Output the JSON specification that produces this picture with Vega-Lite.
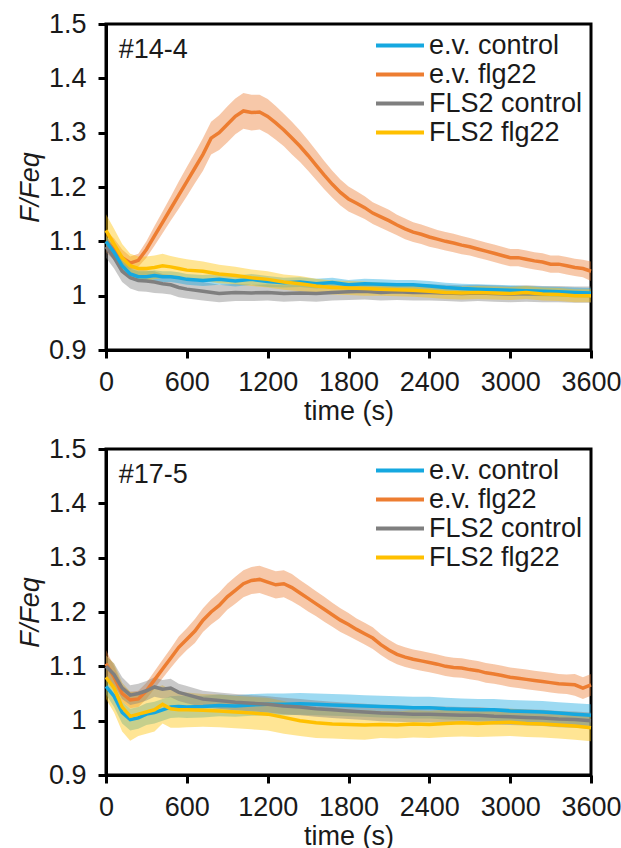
{
"$schema": "https://vega.github.io/schema/vega-lite/v6.json",
"padding": {"left": 14, "top": 8, "right": 4, "bottom": 4},
"background": "white",
"config": {
  "font": "Liberation Sans",
  "view": {"stroke": "black", "strokeWidth": 3},
  "axis": {"domainColor": "black", "domainWidth": 3, "tickColor": "black", "tickWidth": 3, "tickSize": 8, "labelFontSize": 27, "labelColor": "#1a1a1a", "titleFontSize": 27, "titleColor": "#1a1a1a", "titleFontWeight": "normal", "grid": false, "labelFont": "Liberation Sans", "titleFont": "Liberation Sans"},
  "legend": {"orient": "top-right", "offset": 8, "symbolType": "stroke", "symbolSize": 2304, "symbolStrokeWidth": 4, "symbolOpacity": 1, "clipHeight": 27, "labelFontSize": 27, "labelFont": "Liberation Sans", "labelColor": "#1a1a1a", "padding": 0, "rowPadding": 1, "labelOffset": 3, "labelLimit": 400}
},
"resolve": {"scale": {"color": "independent"}, "legend": {"color": "independent"}},
"spacing": 7,
"datasets": {
"a": [
{"s":"e.v. flg22","t":0,"m":1.1,"e":0.02},{"s":"e.v. flg22","t":60,"m":1.085,"e":0.02},{"s":"e.v. flg22","t":120,"m":1.07,"e":0.015},{"s":"e.v. flg22","t":180,"m":1.06,"e":0.012},{"s":"e.v. flg22","t":240,"m":1.065,"e":0.012},{"s":"e.v. flg22","t":300,"m":1.085,"e":0.015},{"s":"e.v. flg22","t":360,"m":1.11,"e":0.018},{"s":"e.v. flg22","t":420,"m":1.135,"e":0.02},{"s":"e.v. flg22","t":480,"m":1.16,"e":0.022},{"s":"e.v. flg22","t":540,"m":1.185,"e":0.025},{"s":"e.v. flg22","t":600,"m":1.21,"e":0.027},{"s":"e.v. flg22","t":660,"m":1.235,"e":0.028},{"s":"e.v. flg22","t":720,"m":1.26,"e":0.03},{"s":"e.v. flg22","t":780,"m":1.29,"e":0.03},{"s":"e.v. flg22","t":840,"m":1.3,"e":0.032},{"s":"e.v. flg22","t":900,"m":1.315,"e":0.033},{"s":"e.v. flg22","t":960,"m":1.33,"e":0.033},{"s":"e.v. flg22","t":1020,"m":1.34,"e":0.033},{"s":"e.v. flg22","t":1080,"m":1.337,"e":0.033},{"s":"e.v. flg22","t":1140,"m":1.338,"e":0.032},{"s":"e.v. flg22","t":1200,"m":1.33,"e":0.032},{"s":"e.v. flg22","t":1260,"m":1.318,"e":0.031},{"s":"e.v. flg22","t":1320,"m":1.305,"e":0.03},{"s":"e.v. flg22","t":1380,"m":1.29,"e":0.03},{"s":"e.v. flg22","t":1440,"m":1.275,"e":0.029},{"s":"e.v. flg22","t":1500,"m":1.258,"e":0.028},{"s":"e.v. flg22","t":1560,"m":1.24,"e":0.027},{"s":"e.v. flg22","t":1620,"m":1.222,"e":0.026},{"s":"e.v. flg22","t":1680,"m":1.205,"e":0.025},{"s":"e.v. flg22","t":1740,"m":1.19,"e":0.024},{"s":"e.v. flg22","t":1800,"m":1.178,"e":0.023},{"s":"e.v. flg22","t":1860,"m":1.17,"e":0.022},{"s":"e.v. flg22","t":1920,"m":1.162,"e":0.021},{"s":"e.v. flg22","t":1980,"m":1.152,"e":0.02},{"s":"e.v. flg22","t":2040,"m":1.145,"e":0.02},{"s":"e.v. flg22","t":2100,"m":1.138,"e":0.02},{"s":"e.v. flg22","t":2160,"m":1.13,"e":0.019},{"s":"e.v. flg22","t":2220,"m":1.123,"e":0.019},{"s":"e.v. flg22","t":2280,"m":1.117,"e":0.018},{"s":"e.v. flg22","t":2340,"m":1.113,"e":0.018},{"s":"e.v. flg22","t":2400,"m":1.108,"e":0.018},{"s":"e.v. flg22","t":2460,"m":1.104,"e":0.017},{"s":"e.v. flg22","t":2520,"m":1.1,"e":0.017},{"s":"e.v. flg22","t":2580,"m":1.097,"e":0.017},{"s":"e.v. flg22","t":2640,"m":1.093,"e":0.017},{"s":"e.v. flg22","t":2700,"m":1.09,"e":0.016},{"s":"e.v. flg22","t":2760,"m":1.086,"e":0.016},{"s":"e.v. flg22","t":2820,"m":1.082,"e":0.016},{"s":"e.v. flg22","t":2880,"m":1.078,"e":0.016},{"s":"e.v. flg22","t":2940,"m":1.074,"e":0.016},{"s":"e.v. flg22","t":3000,"m":1.07,"e":0.016},{"s":"e.v. flg22","t":3060,"m":1.07,"e":0.016},{"s":"e.v. flg22","t":3120,"m":1.067,"e":0.016},{"s":"e.v. flg22","t":3180,"m":1.064,"e":0.016},{"s":"e.v. flg22","t":3240,"m":1.062,"e":0.016},{"s":"e.v. flg22","t":3300,"m":1.058,"e":0.016},{"s":"e.v. flg22","t":3360,"m":1.058,"e":0.016},{"s":"e.v. flg22","t":3420,"m":1.055,"e":0.016},{"s":"e.v. flg22","t":3480,"m":1.052,"e":0.016},{"s":"e.v. flg22","t":3540,"m":1.05,"e":0.016},{"s":"e.v. flg22","t":3600,"m":1.045,"e":0.018},
{"s":"FLS2 control","t":0,"m":1.09,"e":0.02},{"s":"FLS2 control","t":60,"m":1.07,"e":0.02},{"s":"FLS2 control","t":120,"m":1.045,"e":0.02},{"s":"FLS2 control","t":180,"m":1.033,"e":0.02},{"s":"FLS2 control","t":240,"m":1.028,"e":0.02},{"s":"FLS2 control","t":300,"m":1.027,"e":0.02},{"s":"FLS2 control","t":360,"m":1.025,"e":0.02},{"s":"FLS2 control","t":420,"m":1.022,"e":0.018},{"s":"FLS2 control","t":480,"m":1.02,"e":0.018},{"s":"FLS2 control","t":540,"m":1.015,"e":0.018},{"s":"FLS2 control","t":600,"m":1.012,"e":0.017},{"s":"FLS2 control","t":720,"m":1.008,"e":0.017},{"s":"FLS2 control","t":840,"m":1.004,"e":0.016},{"s":"FLS2 control","t":960,"m":1.006,"e":0.016},{"s":"FLS2 control","t":1080,"m":1.005,"e":0.015},{"s":"FLS2 control","t":1200,"m":1.006,"e":0.015},{"s":"FLS2 control","t":1320,"m":1.004,"e":0.015},{"s":"FLS2 control","t":1440,"m":1.005,"e":0.015},{"s":"FLS2 control","t":1560,"m":1.004,"e":0.015},{"s":"FLS2 control","t":1680,"m":1.006,"e":0.015},{"s":"FLS2 control","t":1800,"m":1.007,"e":0.015},{"s":"FLS2 control","t":1920,"m":1.008,"e":0.015},{"s":"FLS2 control","t":2040,"m":1.006,"e":0.015},{"s":"FLS2 control","t":2160,"m":1.007,"e":0.015},{"s":"FLS2 control","t":2280,"m":1.006,"e":0.015},{"s":"FLS2 control","t":2400,"m":1.006,"e":0.015},{"s":"FLS2 control","t":2520,"m":1.005,"e":0.015},{"s":"FLS2 control","t":2640,"m":1.004,"e":0.015},{"s":"FLS2 control","t":2760,"m":1.005,"e":0.015},{"s":"FLS2 control","t":2880,"m":1.004,"e":0.015},{"s":"FLS2 control","t":3000,"m":1.003,"e":0.015},{"s":"FLS2 control","t":3120,"m":1.004,"e":0.015},{"s":"FLS2 control","t":3240,"m":1.003,"e":0.015},{"s":"FLS2 control","t":3360,"m":1.003,"e":0.015},{"s":"FLS2 control","t":3480,"m":1.002,"e":0.015},{"s":"FLS2 control","t":3600,"m":1.002,"e":0.015},
{"s":"e.v. control","t":0,"m":1.1,"e":0.01},{"s":"e.v. control","t":60,"m":1.08,"e":0.01},{"s":"e.v. control","t":120,"m":1.055,"e":0.01},{"s":"e.v. control","t":180,"m":1.04,"e":0.01},{"s":"e.v. control","t":240,"m":1.035,"e":0.01},{"s":"e.v. control","t":300,"m":1.035,"e":0.01},{"s":"e.v. control","t":360,"m":1.037,"e":0.01},{"s":"e.v. control","t":420,"m":1.035,"e":0.01},{"s":"e.v. control","t":480,"m":1.035,"e":0.01},{"s":"e.v. control","t":540,"m":1.033,"e":0.01},{"s":"e.v. control","t":600,"m":1.03,"e":0.01},{"s":"e.v. control","t":720,"m":1.028,"e":0.01},{"s":"e.v. control","t":840,"m":1.03,"e":0.01},{"s":"e.v. control","t":960,"m":1.027,"e":0.01},{"s":"e.v. control","t":1080,"m":1.03,"e":0.01},{"s":"e.v. control","t":1200,"m":1.026,"e":0.01},{"s":"e.v. control","t":1320,"m":1.024,"e":0.009},{"s":"e.v. control","t":1440,"m":1.025,"e":0.009},{"s":"e.v. control","t":1560,"m":1.022,"e":0.009},{"s":"e.v. control","t":1680,"m":1.024,"e":0.009},{"s":"e.v. control","t":1800,"m":1.02,"e":0.009},{"s":"e.v. control","t":1920,"m":1.022,"e":0.009},{"s":"e.v. control","t":2040,"m":1.021,"e":0.009},{"s":"e.v. control","t":2160,"m":1.02,"e":0.009},{"s":"e.v. control","t":2280,"m":1.02,"e":0.009},{"s":"e.v. control","t":2400,"m":1.018,"e":0.009},{"s":"e.v. control","t":2520,"m":1.015,"e":0.009},{"s":"e.v. control","t":2640,"m":1.013,"e":0.009},{"s":"e.v. control","t":2760,"m":1.012,"e":0.009},{"s":"e.v. control","t":2880,"m":1.011,"e":0.009},{"s":"e.v. control","t":3000,"m":1.01,"e":0.009},{"s":"e.v. control","t":3120,"m":1.009,"e":0.009},{"s":"e.v. control","t":3240,"m":1.008,"e":0.009},{"s":"e.v. control","t":3360,"m":1.007,"e":0.009},{"s":"e.v. control","t":3480,"m":1.006,"e":0.009},{"s":"e.v. control","t":3600,"m":1.005,"e":0.009},
{"s":"FLS2 flg22","t":0,"m":1.12,"e":0.03},{"s":"FLS2 flg22","t":60,"m":1.095,"e":0.028},{"s":"FLS2 flg22","t":120,"m":1.07,"e":0.025},{"s":"FLS2 flg22","t":180,"m":1.055,"e":0.022},{"s":"FLS2 flg22","t":240,"m":1.05,"e":0.022},{"s":"FLS2 flg22","t":300,"m":1.05,"e":0.022},{"s":"FLS2 flg22","t":360,"m":1.052,"e":0.022},{"s":"FLS2 flg22","t":420,"m":1.055,"e":0.022},{"s":"FLS2 flg22","t":480,"m":1.053,"e":0.02},{"s":"FLS2 flg22","t":540,"m":1.05,"e":0.02},{"s":"FLS2 flg22","t":600,"m":1.047,"e":0.02},{"s":"FLS2 flg22","t":720,"m":1.045,"e":0.018},{"s":"FLS2 flg22","t":840,"m":1.04,"e":0.017},{"s":"FLS2 flg22","t":960,"m":1.037,"e":0.016},{"s":"FLS2 flg22","t":1080,"m":1.033,"e":0.015},{"s":"FLS2 flg22","t":1200,"m":1.03,"e":0.015},{"s":"FLS2 flg22","t":1320,"m":1.025,"e":0.014},{"s":"FLS2 flg22","t":1440,"m":1.022,"e":0.014},{"s":"FLS2 flg22","t":1560,"m":1.018,"e":0.013},{"s":"FLS2 flg22","t":1680,"m":1.015,"e":0.013},{"s":"FLS2 flg22","t":1800,"m":1.014,"e":0.013},{"s":"FLS2 flg22","t":1920,"m":1.013,"e":0.013},{"s":"FLS2 flg22","t":2040,"m":1.012,"e":0.012},{"s":"FLS2 flg22","t":2160,"m":1.011,"e":0.012},{"s":"FLS2 flg22","t":2280,"m":1.01,"e":0.012},{"s":"FLS2 flg22","t":2400,"m":1.008,"e":0.012},{"s":"FLS2 flg22","t":2520,"m":1.006,"e":0.012},{"s":"FLS2 flg22","t":2640,"m":1.005,"e":0.012},{"s":"FLS2 flg22","t":2760,"m":1.006,"e":0.012},{"s":"FLS2 flg22","t":2880,"m":1.005,"e":0.012},{"s":"FLS2 flg22","t":3000,"m":1.004,"e":0.012},{"s":"FLS2 flg22","t":3120,"m":1.006,"e":0.012},{"s":"FLS2 flg22","t":3240,"m":1.003,"e":0.012},{"s":"FLS2 flg22","t":3360,"m":1.002,"e":0.012},{"s":"FLS2 flg22","t":3480,"m":1.0,"e":0.012},{"s":"FLS2 flg22","t":3600,"m":1.0,"e":0.012}
],
"b": [
{"s":"e.v. flg22","t":0,"m":1.105,"e":0.025},{"s":"e.v. flg22","t":60,"m":1.08,"e":0.02},{"s":"e.v. flg22","t":120,"m":1.05,"e":0.015},{"s":"e.v. flg22","t":180,"m":1.038,"e":0.015},{"s":"e.v. flg22","t":240,"m":1.04,"e":0.015},{"s":"e.v. flg22","t":300,"m":1.055,"e":0.015},{"s":"e.v. flg22","t":360,"m":1.075,"e":0.016},{"s":"e.v. flg22","t":420,"m":1.095,"e":0.017},{"s":"e.v. flg22","t":480,"m":1.115,"e":0.018},{"s":"e.v. flg22","t":540,"m":1.135,"e":0.02},{"s":"e.v. flg22","t":600,"m":1.15,"e":0.02},{"s":"e.v. flg22","t":660,"m":1.165,"e":0.022},{"s":"e.v. flg22","t":720,"m":1.185,"e":0.022},{"s":"e.v. flg22","t":780,"m":1.2,"e":0.023},{"s":"e.v. flg22","t":840,"m":1.212,"e":0.024},{"s":"e.v. flg22","t":900,"m":1.228,"e":0.024},{"s":"e.v. flg22","t":960,"m":1.24,"e":0.025},{"s":"e.v. flg22","t":1020,"m":1.252,"e":0.025},{"s":"e.v. flg22","t":1080,"m":1.258,"e":0.025},{"s":"e.v. flg22","t":1140,"m":1.26,"e":0.025},{"s":"e.v. flg22","t":1200,"m":1.255,"e":0.025},{"s":"e.v. flg22","t":1260,"m":1.25,"e":0.025},{"s":"e.v. flg22","t":1320,"m":1.252,"e":0.025},{"s":"e.v. flg22","t":1380,"m":1.245,"e":0.025},{"s":"e.v. flg22","t":1440,"m":1.235,"e":0.024},{"s":"e.v. flg22","t":1500,"m":1.225,"e":0.024},{"s":"e.v. flg22","t":1560,"m":1.215,"e":0.023},{"s":"e.v. flg22","t":1620,"m":1.205,"e":0.023},{"s":"e.v. flg22","t":1680,"m":1.195,"e":0.022},{"s":"e.v. flg22","t":1740,"m":1.185,"e":0.022},{"s":"e.v. flg22","t":1800,"m":1.177,"e":0.021},{"s":"e.v. flg22","t":1860,"m":1.168,"e":0.02},{"s":"e.v. flg22","t":1920,"m":1.16,"e":0.02},{"s":"e.v. flg22","t":1980,"m":1.152,"e":0.02},{"s":"e.v. flg22","t":2040,"m":1.14,"e":0.019},{"s":"e.v. flg22","t":2100,"m":1.13,"e":0.019},{"s":"e.v. flg22","t":2160,"m":1.122,"e":0.018},{"s":"e.v. flg22","t":2220,"m":1.117,"e":0.018},{"s":"e.v. flg22","t":2280,"m":1.113,"e":0.018},{"s":"e.v. flg22","t":2340,"m":1.11,"e":0.018},{"s":"e.v. flg22","t":2400,"m":1.107,"e":0.018},{"s":"e.v. flg22","t":2460,"m":1.104,"e":0.018},{"s":"e.v. flg22","t":2520,"m":1.1,"e":0.018},{"s":"e.v. flg22","t":2580,"m":1.098,"e":0.018},{"s":"e.v. flg22","t":2640,"m":1.097,"e":0.018},{"s":"e.v. flg22","t":2700,"m":1.094,"e":0.018},{"s":"e.v. flg22","t":2760,"m":1.092,"e":0.018},{"s":"e.v. flg22","t":2820,"m":1.088,"e":0.018},{"s":"e.v. flg22","t":2880,"m":1.086,"e":0.018},{"s":"e.v. flg22","t":2940,"m":1.083,"e":0.018},{"s":"e.v. flg22","t":3000,"m":1.08,"e":0.018},{"s":"e.v. flg22","t":3060,"m":1.078,"e":0.018},{"s":"e.v. flg22","t":3120,"m":1.076,"e":0.018},{"s":"e.v. flg22","t":3180,"m":1.074,"e":0.018},{"s":"e.v. flg22","t":3240,"m":1.072,"e":0.018},{"s":"e.v. flg22","t":3300,"m":1.07,"e":0.018},{"s":"e.v. flg22","t":3360,"m":1.068,"e":0.018},{"s":"e.v. flg22","t":3420,"m":1.067,"e":0.018},{"s":"e.v. flg22","t":3480,"m":1.066,"e":0.02},{"s":"e.v. flg22","t":3540,"m":1.06,"e":0.02},{"s":"e.v. flg22","t":3600,"m":1.066,"e":0.02},
{"s":"e.v. control","t":0,"m":1.063,"e":0.015},{"s":"e.v. control","t":60,"m":1.045,"e":0.02},{"s":"e.v. control","t":120,"m":1.015,"e":0.02},{"s":"e.v. control","t":180,"m":1.002,"e":0.02},{"s":"e.v. control","t":240,"m":1.005,"e":0.02},{"s":"e.v. control","t":300,"m":1.012,"e":0.02},{"s":"e.v. control","t":360,"m":1.015,"e":0.02},{"s":"e.v. control","t":420,"m":1.02,"e":0.02},{"s":"e.v. control","t":480,"m":1.025,"e":0.02},{"s":"e.v. control","t":540,"m":1.026,"e":0.02},{"s":"e.v. control","t":600,"m":1.025,"e":0.02},{"s":"e.v. control","t":720,"m":1.026,"e":0.02},{"s":"e.v. control","t":840,"m":1.028,"e":0.02},{"s":"e.v. control","t":960,"m":1.027,"e":0.02},{"s":"e.v. control","t":1080,"m":1.029,"e":0.02},{"s":"e.v. control","t":1200,"m":1.03,"e":0.02},{"s":"e.v. control","t":1320,"m":1.03,"e":0.02},{"s":"e.v. control","t":1440,"m":1.031,"e":0.02},{"s":"e.v. control","t":1560,"m":1.03,"e":0.02},{"s":"e.v. control","t":1680,"m":1.029,"e":0.02},{"s":"e.v. control","t":1800,"m":1.028,"e":0.02},{"s":"e.v. control","t":1920,"m":1.027,"e":0.02},{"s":"e.v. control","t":2040,"m":1.026,"e":0.02},{"s":"e.v. control","t":2160,"m":1.025,"e":0.02},{"s":"e.v. control","t":2280,"m":1.024,"e":0.02},{"s":"e.v. control","t":2400,"m":1.024,"e":0.02},{"s":"e.v. control","t":2520,"m":1.022,"e":0.02},{"s":"e.v. control","t":2640,"m":1.021,"e":0.02},{"s":"e.v. control","t":2760,"m":1.02,"e":0.02},{"s":"e.v. control","t":2880,"m":1.02,"e":0.02},{"s":"e.v. control","t":3000,"m":1.018,"e":0.02},{"s":"e.v. control","t":3120,"m":1.017,"e":0.02},{"s":"e.v. control","t":3240,"m":1.016,"e":0.02},{"s":"e.v. control","t":3360,"m":1.014,"e":0.02},{"s":"e.v. control","t":3480,"m":1.012,"e":0.02},{"s":"e.v. control","t":3600,"m":1.01,"e":0.02},
{"s":"FLS2 flg22","t":0,"m":1.08,"e":0.04},{"s":"FLS2 flg22","t":60,"m":1.06,"e":0.045},{"s":"FLS2 flg22","t":120,"m":1.025,"e":0.045},{"s":"FLS2 flg22","t":180,"m":1.008,"e":0.045},{"s":"FLS2 flg22","t":240,"m":1.012,"e":0.04},{"s":"FLS2 flg22","t":300,"m":1.016,"e":0.04},{"s":"FLS2 flg22","t":360,"m":1.02,"e":0.04},{"s":"FLS2 flg22","t":420,"m":1.03,"e":0.035},{"s":"FLS2 flg22","t":480,"m":1.022,"e":0.035},{"s":"FLS2 flg22","t":540,"m":1.02,"e":0.033},{"s":"FLS2 flg22","t":600,"m":1.02,"e":0.032},{"s":"FLS2 flg22","t":720,"m":1.019,"e":0.03},{"s":"FLS2 flg22","t":840,"m":1.018,"e":0.03},{"s":"FLS2 flg22","t":960,"m":1.016,"e":0.03},{"s":"FLS2 flg22","t":1080,"m":1.014,"e":0.03},{"s":"FLS2 flg22","t":1200,"m":1.012,"e":0.03},{"s":"FLS2 flg22","t":1320,"m":1.006,"e":0.03},{"s":"FLS2 flg22","t":1440,"m":1.0,"e":0.028},{"s":"FLS2 flg22","t":1560,"m":0.996,"e":0.028},{"s":"FLS2 flg22","t":1680,"m":0.994,"e":0.027},{"s":"FLS2 flg22","t":1800,"m":0.993,"e":0.027},{"s":"FLS2 flg22","t":1920,"m":0.992,"e":0.027},{"s":"FLS2 flg22","t":2040,"m":0.993,"e":0.025},{"s":"FLS2 flg22","t":2160,"m":0.992,"e":0.025},{"s":"FLS2 flg22","t":2280,"m":0.994,"e":0.025},{"s":"FLS2 flg22","t":2400,"m":0.993,"e":0.025},{"s":"FLS2 flg22","t":2520,"m":0.995,"e":0.025},{"s":"FLS2 flg22","t":2640,"m":0.996,"e":0.025},{"s":"FLS2 flg22","t":2760,"m":0.995,"e":0.025},{"s":"FLS2 flg22","t":2880,"m":0.996,"e":0.025},{"s":"FLS2 flg22","t":3000,"m":0.997,"e":0.025},{"s":"FLS2 flg22","t":3120,"m":0.995,"e":0.025},{"s":"FLS2 flg22","t":3240,"m":0.994,"e":0.025},{"s":"FLS2 flg22","t":3360,"m":0.992,"e":0.025},{"s":"FLS2 flg22","t":3480,"m":0.99,"e":0.025},{"s":"FLS2 flg22","t":3600,"m":0.987,"e":0.025},
{"s":"FLS2 control","t":0,"m":1.1,"e":0.02},{"s":"FLS2 control","t":60,"m":1.085,"e":0.02},{"s":"FLS2 control","t":120,"m":1.06,"e":0.02},{"s":"FLS2 control","t":180,"m":1.047,"e":0.018},{"s":"FLS2 control","t":240,"m":1.05,"e":0.018},{"s":"FLS2 control","t":300,"m":1.055,"e":0.018},{"s":"FLS2 control","t":360,"m":1.062,"e":0.018},{"s":"FLS2 control","t":420,"m":1.058,"e":0.017},{"s":"FLS2 control","t":480,"m":1.06,"e":0.017},{"s":"FLS2 control","t":540,"m":1.052,"e":0.016},{"s":"FLS2 control","t":600,"m":1.048,"e":0.016},{"s":"FLS2 control","t":720,"m":1.04,"e":0.015},{"s":"FLS2 control","t":840,"m":1.037,"e":0.015},{"s":"FLS2 control","t":960,"m":1.034,"e":0.015},{"s":"FLS2 control","t":1080,"m":1.032,"e":0.015},{"s":"FLS2 control","t":1200,"m":1.03,"e":0.015},{"s":"FLS2 control","t":1320,"m":1.027,"e":0.015},{"s":"FLS2 control","t":1440,"m":1.025,"e":0.015},{"s":"FLS2 control","t":1560,"m":1.022,"e":0.015},{"s":"FLS2 control","t":1680,"m":1.02,"e":0.015},{"s":"FLS2 control","t":1800,"m":1.018,"e":0.015},{"s":"FLS2 control","t":1920,"m":1.016,"e":0.015},{"s":"FLS2 control","t":2040,"m":1.014,"e":0.015},{"s":"FLS2 control","t":2160,"m":1.013,"e":0.015},{"s":"FLS2 control","t":2280,"m":1.012,"e":0.015},{"s":"FLS2 control","t":2400,"m":1.012,"e":0.015},{"s":"FLS2 control","t":2520,"m":1.011,"e":0.015},{"s":"FLS2 control","t":2640,"m":1.01,"e":0.015},{"s":"FLS2 control","t":2760,"m":1.01,"e":0.015},{"s":"FLS2 control","t":2880,"m":1.008,"e":0.015},{"s":"FLS2 control","t":3000,"m":1.007,"e":0.015},{"s":"FLS2 control","t":3120,"m":1.006,"e":0.015},{"s":"FLS2 control","t":3240,"m":1.005,"e":0.015},{"s":"FLS2 control","t":3360,"m":1.003,"e":0.015},{"s":"FLS2 control","t":3480,"m":1.002,"e":0.015},{"s":"FLS2 control","t":3600,"m":1.0,"e":0.015}
]
},
"vconcat": [
{
  "width": 485, "height": 326,
  "data": {"name": "a"},
  "layer": [
    {"mark": {"type": "errorband", "opacity": 0.42},
     "encoding": {
       "x": {"field": "t", "type": "quantitative", "scale": {"domain": [0, 3600], "nice": false}, "axis": {"values": [0,600,1200,1800,2400,3000,3600], "format": "d", "labelOverlap": false, "labelFlush": false, "title": "time (s)", "labelPadding": 11, "titlePadding": 3}},
       "y": {"field": "m", "type": "quantitative", "scale": {"domain": [0.9, 1.5], "nice": false, "zero": false}, "axis": {"values": [0.9,1,1.1,1.2,1.3,1.4,1.5], "format": ".1~f", "labelOverlap": false, "labelFlush": false, "title": "F/Feq", "titleFontStyle": "italic", "labelPadding": 12, "titlePadding": 4}},
       "yError": {"field": "e"},
       "color": {"field": "s", "type": "nominal", "title": null, "scale": {"domain": ["e.v. control","e.v. flg22","FLS2 control","FLS2 flg22"], "range": ["#15A8E0","#ED7D31","#7F7F7F","#FFC000"]}}
     }},
    {"mark": {"type": "line", "strokeWidth": 3.5},
     "encoding": {
       "x": {"field": "t", "type": "quantitative"},
       "y": {"field": "m", "type": "quantitative"},
       "color": {"field": "s", "type": "nominal", "title": null, "scale": {"domain": ["e.v. control","e.v. flg22","FLS2 control","FLS2 flg22"], "range": ["#15A8E0","#ED7D31","#7F7F7F","#FFC000"]}}
     }},
    {"data": {"values": [{"lab": "#14-4"}]},
     "mark": {"type": "text", "align": "left", "baseline": "middle", "fontSize": 27, "color": "#1a1a1a"},
     "encoding": {"x": {"datum": 95}, "y": {"datum": 1.452}, "text": {"field": "lab"}}}
  ]
},
{
  "width": 485, "height": 326,
  "data": {"name": "b"},
  "layer": [
    {"mark": {"type": "errorband", "opacity": 0.42},
     "encoding": {
       "x": {"field": "t", "type": "quantitative", "scale": {"domain": [0, 3600], "nice": false}, "axis": {"values": [0,600,1200,1800,2400,3000,3600], "format": "d", "labelOverlap": false, "labelFlush": false, "title": "time (s)", "labelPadding": 11, "titlePadding": 3}},
       "y": {"field": "m", "type": "quantitative", "scale": {"domain": [0.9, 1.5], "nice": false, "zero": false}, "axis": {"values": [0.9,1,1.1,1.2,1.3,1.4,1.5], "format": ".1~f", "labelOverlap": false, "labelFlush": false, "title": "F/Feq", "titleFontStyle": "italic", "labelPadding": 12, "titlePadding": 4}},
       "yError": {"field": "e"},
       "color": {"field": "s", "type": "nominal", "title": null, "scale": {"domain": ["e.v. control","e.v. flg22","FLS2 control","FLS2 flg22"], "range": ["#15A8E0","#ED7D31","#7F7F7F","#FFC000"]}}
     }},
    {"mark": {"type": "line", "strokeWidth": 3.5},
     "encoding": {
       "x": {"field": "t", "type": "quantitative"},
       "y": {"field": "m", "type": "quantitative"},
       "color": {"field": "s", "type": "nominal", "title": null, "scale": {"domain": ["e.v. control","e.v. flg22","FLS2 control","FLS2 flg22"], "range": ["#15A8E0","#ED7D31","#7F7F7F","#FFC000"]}}
     }},
    {"data": {"values": [{"lab": "#17-5"}]},
     "mark": {"type": "text", "align": "left", "baseline": "middle", "fontSize": 27, "color": "#1a1a1a"},
     "encoding": {"x": {"datum": 95}, "y": {"datum": 1.452}, "text": {"field": "lab"}}}
  ]
}
]
}
